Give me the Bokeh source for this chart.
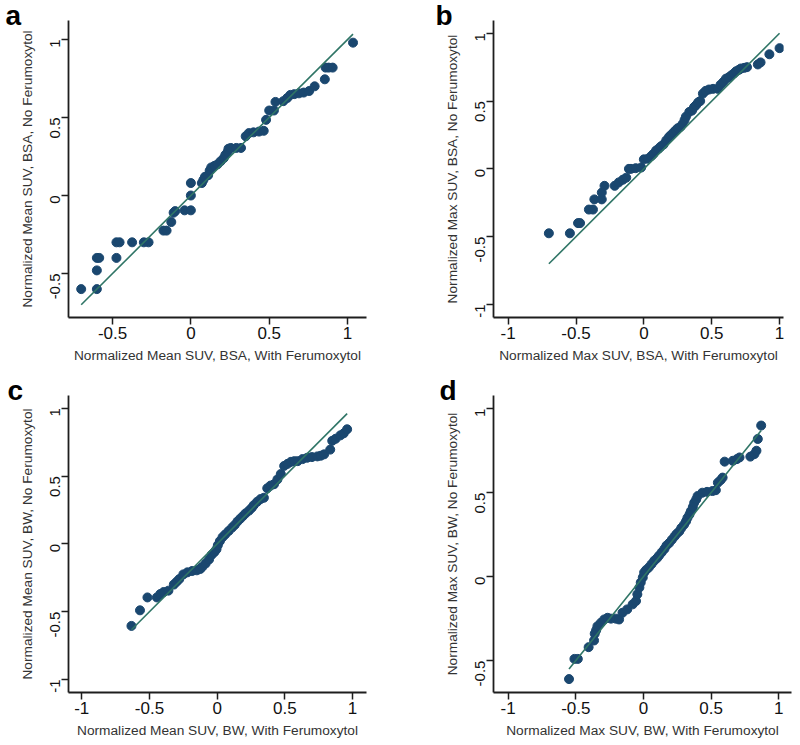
import math
from bokeh.plotting import figure
from bokeh.models import Range1d, FixedTicker, ColumnDataSource
from bokeh.layouts import column, row
from bokeh.embed import file_html
from bokeh.resources import INLINE

# ---------------- data ----------------
# Panel a: Normalized Mean SUV, BSA
a_x = [-0.70, -0.60, -0.60, -0.60, -0.585, -0.475, -0.475, -0.455, -0.375, -0.30,
       -0.27, -0.175, -0.155, -0.125, -0.11, -0.10, -0.04, 0.0, 0.0, 0.0,
       0.07, 0.08, 0.09, 0.11, 0.12, 0.13, 0.15, 0.17, 0.19, 0.21,
       0.22, 0.235, 0.24, 0.255, 0.29, 0.32, 0.35, 0.37, 0.40, 0.435,
       0.465, 0.48, 0.50, 0.53, 0.54, 0.59, 0.615, 0.635, 0.66, 0.69,
       0.72, 0.755, 0.79, 0.855, 0.86, 0.88, 0.905, 1.035]
a_y = [-0.60, -0.60, -0.48, -0.40, -0.40, -0.40, -0.30, -0.30, -0.30, -0.30,
       -0.30, -0.225, -0.225, -0.17, -0.11, -0.10, -0.095, -0.095, 0.0, 0.08,
       0.08, 0.10, 0.12, 0.13, 0.16, 0.18, 0.19, 0.20, 0.22, 0.24,
       0.26, 0.28, 0.30, 0.305, 0.305, 0.305, 0.38, 0.40, 0.405, 0.41,
       0.415, 0.485, 0.545, 0.545, 0.60, 0.605, 0.625, 0.645, 0.65, 0.655,
       0.66, 0.67, 0.70, 0.745, 0.82, 0.82, 0.82, 0.98]

# Panel b: Normalized Max SUV, BSA
b_x = [-0.70, -0.545, -0.485, -0.47, -0.405, -0.375, -0.365, -0.31, -0.31, -0.29,
       -0.215, -0.185, -0.155, -0.13, -0.11, -0.095, -0.06, -0.02, 0.0, 0.03,
       0.055, 0.07, 0.09, 0.11, 0.125, 0.145, 0.165, 0.185, 0.20, 0.22,
       0.235, 0.25, 0.27, 0.285, 0.30, 0.31, 0.335, 0.355, 0.37, 0.385,
       0.40, 0.415, 0.435, 0.455, 0.48, 0.51, 0.545, 0.565, 0.585, 0.605,
       0.625, 0.645, 0.665, 0.68, 0.70, 0.715, 0.74, 0.76, 0.84, 0.86,
       0.925, 1.0]
b_y = [-0.475, -0.475, -0.40, -0.40, -0.30, -0.30, -0.225, -0.225, -0.175, -0.125,
       -0.125, -0.10, -0.08, -0.065, 0.0, 0.0, 0.005, 0.01, 0.07, 0.075,
       0.095, 0.11, 0.135, 0.15, 0.165, 0.18, 0.21, 0.235, 0.25, 0.27,
       0.285, 0.30, 0.31, 0.33, 0.36, 0.385, 0.42, 0.43, 0.455, 0.47,
       0.49, 0.50, 0.555, 0.575, 0.585, 0.59, 0.59, 0.62, 0.64, 0.665,
       0.675, 0.69, 0.705, 0.72, 0.73, 0.74, 0.745, 0.75, 0.77, 0.785,
       0.845, 0.89]

# Panel c: Normalized Mean SUV, BW
c_x = [-0.633, -0.57, -0.515, -0.445, -0.42, -0.395, -0.36, -0.32, -0.30, -0.28,
       -0.25, -0.22, -0.185, -0.15, -0.125, -0.11, -0.085, -0.06, -0.04, -0.02,
       -0.005, 0.005, 0.02, 0.04, 0.06, 0.085, 0.11, 0.13, 0.15, 0.17,
       0.19, 0.21, 0.235, 0.255, 0.27, 0.295, 0.32, 0.345, 0.37, 0.395,
       0.42, 0.445, 0.47, 0.495, 0.52, 0.545, 0.57, 0.595, 0.63, 0.665,
       0.70, 0.74, 0.765, 0.79, 0.835, 0.85, 0.875, 0.91, 0.935, 0.96]
c_y = [-0.605, -0.49, -0.395, -0.395, -0.37, -0.355, -0.345, -0.30, -0.28, -0.26,
       -0.225, -0.21, -0.20, -0.195, -0.185, -0.17, -0.145, -0.115, -0.08, -0.06,
       -0.04, -0.01, 0.02, 0.05, 0.07, 0.095, 0.12, 0.14, 0.165, 0.185,
       0.205, 0.225, 0.245, 0.265, 0.285, 0.31, 0.33, 0.34, 0.41, 0.43,
       0.44, 0.475, 0.515, 0.575, 0.59, 0.605, 0.61, 0.61, 0.625, 0.635,
       0.64, 0.645, 0.65, 0.66, 0.695, 0.76, 0.775, 0.80, 0.815, 0.845]

# Panel d: Normalized Max SUV, BW
d_x = [-0.55, -0.51, -0.485, -0.405, -0.365, -0.36, -0.35, -0.34, -0.315, -0.29,
       -0.265, -0.24, -0.205, -0.18, -0.155, -0.12, -0.08, -0.055, -0.045, -0.03,
       -0.02, -0.005, 0.005, 0.02, 0.04, 0.06, 0.08, 0.10, 0.115, 0.135,
       0.155, 0.17, 0.19, 0.21, 0.23, 0.245, 0.265, 0.28, 0.30, 0.315,
       0.325, 0.34, 0.35, 0.365, 0.375, 0.39, 0.40, 0.435, 0.47, 0.51,
       0.535, 0.55, 0.57, 0.585, 0.60, 0.66, 0.69, 0.71, 0.79, 0.82,
       0.835, 0.845, 0.87]
d_y = [-0.61, -0.49, -0.49, -0.42, -0.38, -0.34, -0.32, -0.295, -0.275, -0.255,
       -0.245, -0.25, -0.25, -0.255, -0.215, -0.195, -0.165, -0.145, -0.105, -0.065,
       -0.035, -0.005, 0.025, 0.04, 0.055, 0.075, 0.095, 0.11, 0.125, 0.145,
       0.165, 0.185, 0.20, 0.22, 0.24, 0.255, 0.27, 0.29, 0.31, 0.33,
       0.35, 0.37, 0.39, 0.415, 0.44, 0.46, 0.48, 0.50, 0.505, 0.51,
       0.515, 0.56, 0.575, 0.59, 0.685, 0.69, 0.70, 0.71, 0.715, 0.73,
       0.75, 0.82, 0.90]

ticks_short = [-0.5, 0, 0.5, 1]
ticks_full = [-1, -0.5, 0, 0.5, 1]

a_xlabel = "Normalized Mean SUV, BSA, With Ferumoxytol"
a_ylabel = "Normalized Mean SUV, BSA, No Ferumoxytol"
b_xlabel = "Normalized Max SUV, BSA, With Ferumoxytol"
b_ylabel = "Normalized Max SUV, BSA, No Ferumoxytol"
c_xlabel = "Normalized Mean SUV, BW, With Ferumoxytol"
c_ylabel = "Normalized Mean SUV, BW, No Ferumoxytol"
d_xlabel = "Normalized Max SUV, BW, With Ferumoxytol"
d_ylabel = "Normalized Max SUV, BW, No Ferumoxytol"

# ---------------- styling ----------------
FONT = "Liberation Sans"
DOT = "#1a476f"
LINE = "#2f7566"
AXIS = "#1e1e1e"


def tick_text(v):
    return "0" if v == 0 else "%g" % v


def panel(letter, xs, ys, xlab, ylab, xr, yr, xt, yt,
          w, h, bl, br, bt, bb, lab_dx):
    p = figure(width=w, height=h, x_range=Range1d(*xr), y_range=Range1d(*yr),
               output_backend="svg", toolbar_location=None,
               min_border_left=bl, min_border_right=br,
               min_border_top=bt, min_border_bottom=bb)
    p.outline_line_color = None
    p.grid.visible = False
    p.background_fill_color = "white"
    p.border_fill_color = "white"

    src = ColumnDataSource(dict(x=xs, y=ys))
    p.scatter("x", "y", source=src, size=9, fill_color=DOT, line_color=DOT)
    lo, hi = min(xs), max(xs)
    p.line([lo, hi], [lo, hi], line_color=LINE, line_width=1.6)

    for ax, ticks, lab in ((p.xaxis[0], xt, xlab), (p.yaxis[0], yt, ylab)):
        ax.ticker = FixedTicker(ticks=ticks)
        ax.major_label_overrides = {t: tick_text(t) for t in ticks}
        ax.minor_tick_line_color = None
        ax.major_tick_out = 7
        ax.major_tick_in = 0
        ax.axis_line_width = 1.8
        ax.axis_line_color = AXIS
        ax.major_tick_line_width = 1.5
        ax.major_tick_line_color = AXIS
        ax.major_label_text_font = FONT
        ax.major_label_text_color = "#111111"
        ax.axis_label = lab
        ax.axis_label_text_font = FONT
        ax.axis_label_text_font_style = "normal"
        ax.axis_label_text_font_size = "13.7px"
        ax.axis_label_text_color = "#333333"

    p.xaxis.major_label_text_font_size = "17px"
    p.xaxis.major_label_standoff = 2
    p.xaxis.axis_label_standoff = 6
    p.yaxis.major_label_text_font_size = "15px"
    p.yaxis.major_label_orientation = math.pi / 2
    p.yaxis.major_label_standoff = 6
    p.yaxis.axis_label_standoff = 8

    # panel letter as the figure title, pulled down next to the frame corner
    p.title.text = letter
    p.title.align = "left"
    p.title.offset = lab_dx
    p.title.vertical_align = "bottom"
    p.title.standoff = -20
    p.title.text_font = FONT
    p.title.text_font_style = "bold"
    p.title.text_font_size = "28px"
    p.title.text_color = "#000000"
    return p


pa = panel("a", a_x, a_y, a_xlabel, a_ylabel, (-0.781, 1.121), (-0.782, 1.122),
           ticks_short, ticks_short, 400, 367, 68, 34, 20, 50, -63)
pb = panel("b", b_x, b_y, b_xlabel, b_ylabel, (-1.108, 1.029), (-1.096, 1.094),
           ticks_full, ticks_full, 400, 367, 93, 17, 20, 50, -58)
pc = panel("c", c_x, c_y, c_xlabel, c_ylabel, (-1.098, 1.103), (-1.096, 1.094),
           ticks_full, ticks_full, 400, 377, 68, 34, 28, 52, -61)
pd = panel("d", d_x, d_y, d_xlabel, d_ylabel, (-1.108, 1.094), (-0.690, 1.079),
           ticks_full, ticks_short, 400, 377, 93, 9, 28, 52, -54)

layout = column(row(pa, pb), row(pc, pd))

open("out.html", "w").write(file_html(layout, INLINE))
